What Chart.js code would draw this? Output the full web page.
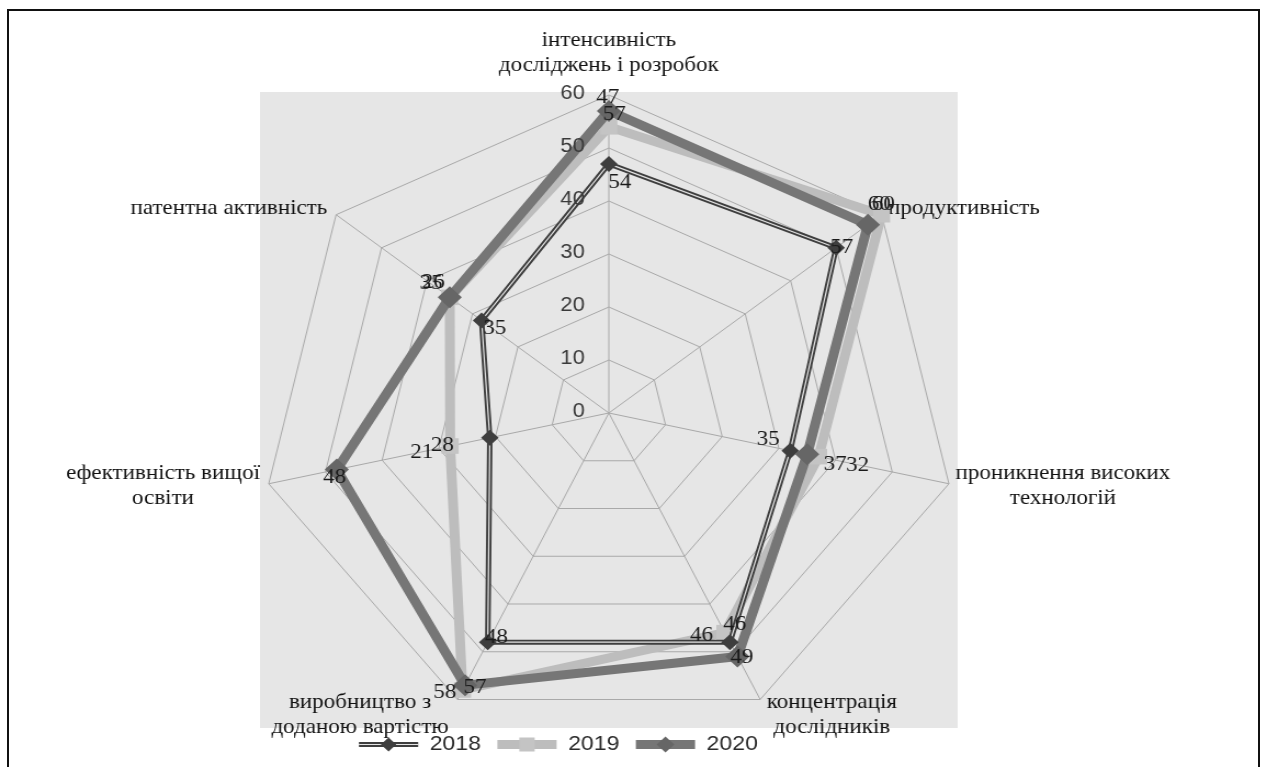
<!DOCTYPE html>
<html lang="uk">
<head>
<meta charset="utf-8">
<script src="https://cdn.jsdelivr.net/npm/chart.js@4.4.1/dist/chart.umd.min.js"></script>
<style>
  html, body { margin: 0; padding: 0; background: #fff; }
  body { width: 1266px; height: 767px; overflow: hidden; position: relative; }
  .frame { position: absolute; left: 7px; top: 9px; width: 1249px; height: 800px; border: 2px solid #111; }
  /* рисунок в оригіналі трохи розтягнутий по горизонталі */
  .wrap { position: absolute; left: 0; top: 0; width: 1154px; height: 767px; transform: scaleX(1.097); transform-origin: 0 0; }
</style>
</head>
<body>
<div class="frame"></div>
<div class="wrap"><canvas id="radar"></canvas></div>
<script>
(() => {
  'use strict'

  const categories = [
    ['інтенсивність', 'досліджень і розробок'],
    'продуктивність',
    ['проникнення високих', 'технологій'],
    ['концентрація', 'дослідників'],
    ['виробництво з', 'доданою вартістю'],
    ['ефективність вищої', 'освіти'],
    'патентна активність'
  ]
  const ticks = [0, 10, 20, 30, 40, 50, 60]

  // значення, зчитані з положення точок
  const values2018 = [47, 50, 32, 48, 48, 21, 28]
  const values2019 = [54, 60, 37, 46, 58, 28, 35]
  const values2020 = [57, 57, 35, 51, 57, 48, 35]

  // підписи даних так, як вони надруковані на рисунку
  const labels2018 = ['54', '57', '35', '46', '48', '21', '35']
  const labels2019 = ['57', '60', '37', '46', '58', '28', '26']
  const labels2020 = ['47', '60', '32', '49', '57', '48', '35']

  // зсув підписів відносно точок (px)
  const shift2018 = [[10, 19], [5, 0], [-20, -11], [-26, -7], [8, -5], [-62, 15], [12, 8]]
  const shift2019 = [[5, -12], [-2, -10], [15, 8], [9, -8], [-16, 3], [-7, -1], [-15, -15]]
  const shift2020 = [[-1, -13], [14, -20], [46, 11], [4, 1], [9, 2], [-2, 8], [-17, -14]]

  const dark = '#3e3e3e'
  const mid = '#767676'
  const light = '#bdbdbd'
  const stripe = '#e4e4e4'

  const serif = '"Liberation Serif", "DejaVu Serif", serif'
  const sans = '"Liberation Sans", Arial, sans-serif'

  function diamond (ctx, x, y, r, color) {
    ctx.fillStyle = color
    ctx.beginPath()
    ctx.moveTo(x, y - r)
    ctx.lineTo(x + r, y)
    ctx.lineTo(x, y + r)
    ctx.lineTo(x - r, y)
    ctx.closePath()
    ctx.fill()
  }

  const decor = {
    id: 'decor',
    beforeDraw (chart) {
      const s = chart.scales.r
      const ctx = chart.ctx
      const r = s.drawingArea
      ctx.save()
      ctx.fillStyle = '#e6e6e6'
      ctx.fillRect(s.xCenter - r, s.yCenter - r - 3, r * 2, r * 2)
      ctx.restore()
    },
    beforeDatasetsDraw (chart) {
      const s = chart.scales.r
      const ctx = chart.ctx
      ctx.save()
      // назви категорій
      const lh = 25
      ctx.font = '21px ' + serif
      ctx.fillStyle = '#111'
      ctx.textAlign = 'center'
      ctx.textBaseline = 'middle'
      categories.forEach((c, i) => {
        const lines = [].concat(c)
        const v = s.getPointPosition(i, s.drawingArea)
        const a = s.getIndexAngle(i) - Math.PI / 2
        const cos = Math.cos(a)
        const sin = Math.sin(a)
        const w = Math.max(...lines.map(l => ctx.measureText(l).width))
        const h = lines.length * lh
        let left
        let top
        if (Math.abs(cos) < 0.1) left = v.x - w / 2
        else if (cos > 0) left = v.x + 6
        else left = v.x - 8 - w
        if (sin < -0.9) top = v.y - 17 - h
        else if (sin > 0.8) top = v.y - 10
        else top = v.y + sin * 10 - h / 2
        lines.forEach((l, k) => ctx.fillText(l, left + w / 2, top + lh * (k + 0.5)))
      })
      ctx.restore()
    },
    afterDatasetsDraw (chart) {
      const s = chart.scales.r
      const ctx = chart.ctx
      ctx.save()
      // підписи шкали ліворуч від вертикальної осі
      ctx.font = '20px ' + sans
      ctx.fillStyle = '#3a3a3a'
      ctx.textAlign = 'right'
      ctx.textBaseline = 'middle'
      ticks.forEach(t => {
        ctx.fillText(String(t), s.xCenter - 22, s.yCenter - s.getDistanceFromCenterForValue(t) - 2)
      })
      // підписи даних
      const sets = [[0, labels2018, shift2018], [4, labels2019, shift2019], [3, labels2020, shift2020]]
      ctx.font = '21px ' + serif
      ctx.fillStyle = '#1a1a1a'
      ctx.textAlign = 'center'
      sets.forEach(([idx, texts, sh]) => {
        chart.getDatasetMeta(idx).data.forEach((pt, i) => {
          ctx.fillText(texts[i], pt.x + sh[i][0], pt.y + sh[i][1])
        })
      })
      ctx.restore()
    },
    afterDraw (chart) {
      // маркери на зразках ліній у легенді
      const lg = chart.legend
      const ctx = chart.ctx
      const bw = lg.options.labels.pointStyleWidth
      const fs = lg.options.labels.font.size
      ctx.save()
      lg.legendItems.forEach((item, k) => {
        const hb = lg.legendHitBoxes[k]
        const x = hb.left + bw / 2
        const y = hb.top + fs / 2
        if (item.text === '2018') {
          ctx.strokeStyle = stripe
          ctx.lineWidth = 1.2
          ctx.beginPath()
          ctx.moveTo(hb.left, y)
          ctx.lineTo(hb.left + bw, y)
          ctx.stroke()
          diamond(ctx, x, y, 7, dark)
        } else if (item.text === '2019') {
          ctx.fillStyle = '#c4c4c4'
          ctx.fillRect(x - 7, y - 7, 14, 14)
        } else {
          diamond(ctx, x, y, 8, '#666')
        }
      })
      ctx.restore()
    }
  }

  const ctx = document.getElementById('radar')

  new Chart(ctx, {
    type: 'radar',
    data: {
      labels: categories,
      datasets: [
        { // маркери 2018
          label: '2018',
          data: values2018,
          showLine: false,
          borderColor: dark,
          borderWidth: 5,
          pointStyle: 'rectRot',
          pointRadius: 8,
          pointBorderWidth: 0,
          pointBackgroundColor: dark,
          fill: false
        },
        { // світла середина подвійної лінії 2018
          label: '',
          data: values2018,
          borderColor: stripe,
          borderWidth: 1.2,
          pointRadius: 0,
          fill: false
        },
        { // лінія 2018
          label: '',
          data: values2018,
          borderColor: dark,
          borderWidth: 5,
          pointRadius: 0,
          fill: false
        },
        {
          label: '2020',
          data: values2020,
          borderColor: mid,
          borderWidth: 9,
          pointStyle: 'rectRot',
          pointRadius: 11,
          pointBorderWidth: 0,
          pointBackgroundColor: '#666',
          fill: false
        },
        {
          label: '2019',
          data: values2019,
          borderColor: light,
          borderWidth: 9,
          pointStyle: 'rect',
          pointRadius: 11,
          pointBorderWidth: 0,
          pointBackgroundColor: '#c4c4c4',
          fill: false
        }
      ]
    },
    options: {
      responsive: true,
      maintainAspectRatio: false,
      animation: false,
      layout: { padding: { right: 136, bottom: 2 } },
      plugins: {
        tooltip: { enabled: false },
        legend: {
          position: 'bottom',
          labels: {
            usePointStyle: true,
            pointStyle: 'line',
            pointStyleWidth: 54,
            padding: 15,
            color: '#2a2a2a',
            font: { family: sans, size: 21 },
            generateLabels (chart) {
              const items = Chart.defaults.plugins.legend.labels.generateLabels(chart)
              items.forEach(it => {
                const ds = chart.data.datasets[it.datasetIndex]
                it.lineWidth = ds.borderWidth
                it.strokeStyle = ds.borderColor
              })
              return items
            },
            filter: item => item.text !== '',
            sort: (a, b) => a.text.localeCompare(b.text)
          }
        }
      },
      scales: {
        r: {
          min: 0,
          max: 60,
          ticks: { display: false, stepSize: 10 },
          grid: { color: '#a9a9a9', lineWidth: 1 },
          angleLines: { color: '#a9a9a9', lineWidth: 1 },
          pointLabels: { display: false },
          afterFit (scale) {
            // центр і радіус як на рисунку
            const ch = scale.chart
            scale.xCenter = Math.round(ch.width * 0.481)
            scale.yCenter = Math.round(ch.height * 0.5385)
            scale.drawingArea = Math.round(ch.height * 0.4146)
          }
        }
      }
    },
    plugins: [decor]
  })
})()
</script>
</body>
</html>
